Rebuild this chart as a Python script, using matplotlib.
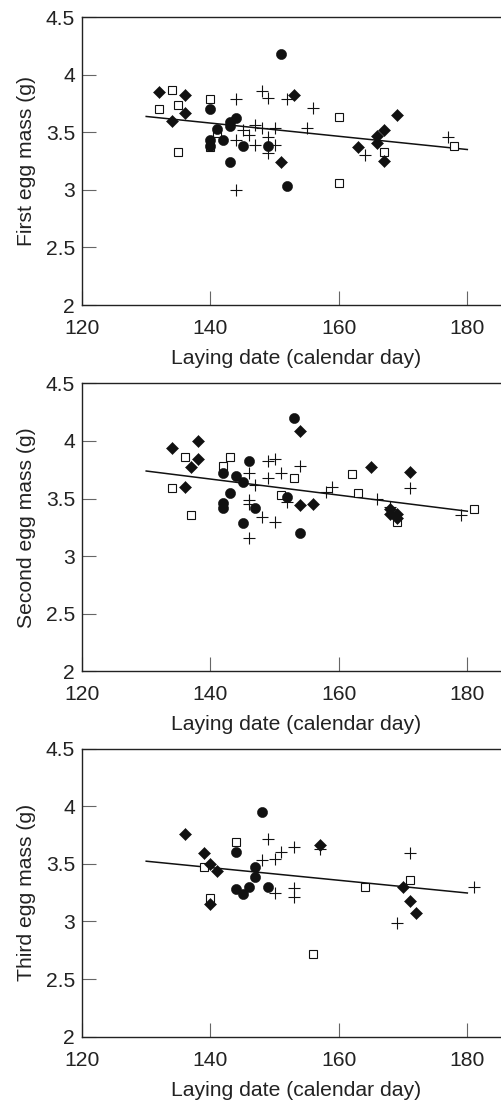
import numpy as np
import matplotlib
matplotlib.use('Agg')
import matplotlib.pyplot as plt

plt.rcParams['font.family'] = ['Liberation Sans', 'DejaVu Sans']

# Panel 1 - first egg
p1_diamond_x = [132, 134, 136, 136, 151, 153, 163, 166, 166, 167, 167, 169]
p1_diamond_y = [3.85, 3.60, 3.82, 3.67, 3.24, 3.82, 3.37, 3.47, 3.41, 3.52, 3.25, 3.65]
p1_square_x = [132, 134, 135, 135, 140, 140, 141, 160, 160, 167, 178]
p1_square_y = [3.70, 3.87, 3.74, 3.33, 3.79, 3.37, 3.49, 3.63, 3.06, 3.33, 3.38]
p1_circle_x = [151, 140, 141, 140, 140, 142, 143, 143, 144, 143, 145, 149, 152]
p1_circle_y = [4.18, 3.70, 3.53, 3.43, 3.38, 3.43, 3.59, 3.55, 3.62, 3.24, 3.38, 3.38, 3.03]
p1_plus_x = [144, 148, 149, 152, 156, 147, 148, 150, 155, 145, 146, 149, 144, 147, 150, 149, 164, 177, 144]
p1_plus_y = [3.79, 3.86, 3.80, 3.79, 3.71, 3.56, 3.54, 3.54, 3.54, 3.52, 3.48, 3.46, 3.43, 3.39, 3.39, 3.32, 3.30, 3.46, 3.00]

# Panel 2 - second egg
p2_diamond_x = [134, 138, 137, 138, 136, 154, 154, 156, 165, 171, 168, 168, 169, 169]
p2_diamond_y = [3.94, 4.00, 3.77, 3.84, 3.60, 4.09, 3.44, 3.45, 3.77, 3.73, 3.41, 3.37, 3.37, 3.33]
p2_square_x = [134, 136, 137, 142, 143, 151, 153, 162, 163, 169, 181]
p2_square_y = [3.59, 3.86, 3.36, 3.78, 3.86, 3.53, 3.68, 3.71, 3.55, 3.30, 3.41]
p2_circle_x = [153, 146, 142, 144, 145, 143, 142, 142, 147, 152, 145, 154]
p2_circle_y = [4.20, 3.83, 3.72, 3.70, 3.64, 3.55, 3.46, 3.42, 3.42, 3.51, 3.29, 3.20]
p2_plus_x = [149, 150, 146, 149, 151, 154, 147, 158, 159, 166, 171, 146, 146, 148, 150, 146, 179, 168, 152]
p2_plus_y = [3.83, 3.84, 3.72, 3.68, 3.72, 3.78, 3.62, 3.56, 3.60, 3.50, 3.59, 3.49, 3.45, 3.34, 3.30, 3.16, 3.36, 3.43, 3.47]

# Panel 3 - third egg
p3_diamond_x = [136, 139, 140, 141, 140, 157, 170, 171, 172]
p3_diamond_y = [3.76, 3.59, 3.50, 3.44, 3.15, 3.66, 3.30, 3.18, 3.07]
p3_square_x = [139, 140, 144, 156, 164, 171]
p3_square_y = [3.47, 3.20, 3.69, 2.72, 3.30, 3.36]
p3_circle_x = [148, 144, 147, 147, 144, 145, 146, 149]
p3_circle_y = [3.95, 3.60, 3.47, 3.39, 3.28, 3.24, 3.30, 3.30]
p3_plus_x = [149, 148, 150, 151, 153, 150, 153, 153, 157, 171, 169, 181]
p3_plus_y = [3.72, 3.53, 3.54, 3.60, 3.65, 3.25, 3.29, 3.21, 3.63, 3.59, 2.99, 3.30]

# regression lines (start / end)
fit_x = [130, 180]
fit1_y = [3.637, 3.35]
fit2_y = [3.739, 3.39]
fit3_y = [3.523, 3.247]

ylabels = ['First egg mass (g)', 'Second egg mass (g)', 'Third egg mass (g)']
xticks = [120, 140, 160, 180]
yticks = [2, 2.5, 3, 3.5, 4, 4.5]
ytick_labels = ['2', '2.5', '3', '3.5', '4', '4.5']

panels = [
    (p1_square_x, p1_square_y, p1_plus_x, p1_plus_y, p1_diamond_x, p1_diamond_y, p1_circle_x, p1_circle_y, fit1_y),
    (p2_square_x, p2_square_y, p2_plus_x, p2_plus_y, p2_diamond_x, p2_diamond_y, p2_circle_x, p2_circle_y, fit2_y),
    (p3_square_x, p3_square_y, p3_plus_x, p3_plus_y, p3_diamond_x, p3_diamond_y, p3_circle_x, p3_circle_y, fit3_y),
]
bottoms = [0.7227, 0.3897, 0.0576]

fig = plt.figure(figsize=(5.02, 11), dpi=100)
fs = 15.2
for i, (sx, sy, px, py, dx, dy, cx, cy, fy) in enumerate(panels):
    ax = fig.add_axes([0.1633, bottoms[i], 0.8367, 0.2618])
    ax.plot(fit_x, fy, color='#111111', lw=1.1, zorder=2)
    ax.plot(sx, sy, ls='none', marker='s', ms=6.4, mfc='white', mec='#111111', mew=0.8, zorder=3)
    ax.plot(px, py, ls='none', marker='+', ms=8.6, mec='#111111', mew=0.8, zorder=4)
    ax.plot(dx, dy, ls='none', marker='D', ms=6.0, mfc='#111111', mec='#111111', mew=0.4, zorder=5)
    ax.plot(cx, cy, ls='none', marker='o', ms=7.3, mfc='#111111', mec='#111111', mew=0.4, zorder=6)

    ax.set_xlim(120, 185.4)
    ax.set_ylim(2, 4.5)
    ax.set_xticks(xticks)
    ax.set_yticks(yticks)
    ax.set_yticklabels(ytick_labels)
    ax.spines['right'].set_visible(False)
    for s in ['left', 'bottom', 'top']:
        ax.spines[s].set_linewidth(1.0)
        ax.spines[s].set_color('#222222')
    ax.tick_params(direction='in', length=10, width=0.8, color='#666666',
                   labelsize=fs, labelcolor='#222222')
    ax.tick_params(axis='x', pad=10)
    ax.tick_params(axis='y', pad=5)
    ax.set_ylabel(ylabels[i], fontsize=fs, color='#222222', labelpad=7)
    ax.set_xlabel('Laying date (calendar day)', fontsize=fs, color='#222222', labelpad=8)
    ax.xaxis.label.set_x(0.51)  # original axes ran past the crop, label sits a bit right

fig.savefig('out.png', dpi=100)
